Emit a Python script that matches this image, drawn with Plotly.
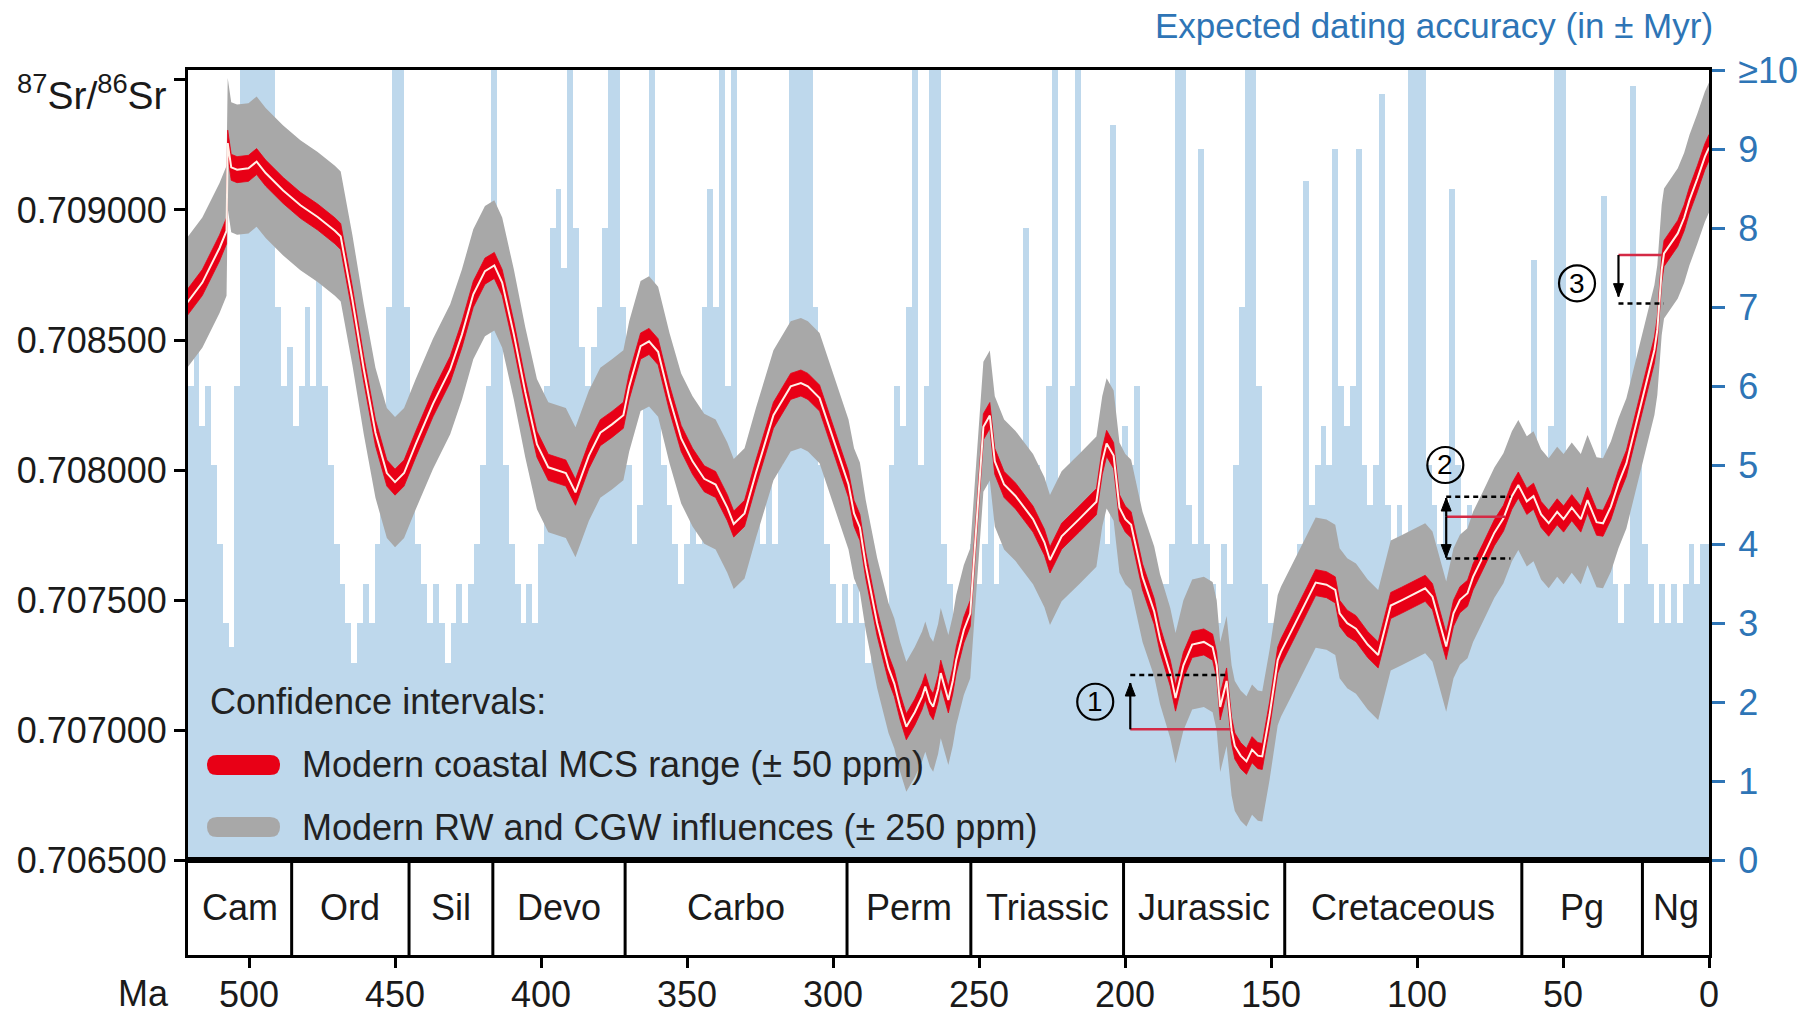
import plotly.graph_objects as go

# ---------------- data ----------------
# Centre of the 87Sr/86Sr curve (age in Ma, ratio)
age_ma = [521.1, 516.0, 510.1, 507.7, 507.3, 506.1, 504.1, 500.2, 497.4, 494.3,
          488.3, 482.4, 476.5, 470.6, 468.6, 464.6, 460.7, 456.7, 452.8, 450.0,
          446.9, 442.9, 437.0, 431.1, 427.1, 423.2, 419.2, 416.0, 413.3, 409.3,
          405.4, 401.4, 397.5, 391.5, 388.2, 383.6, 379.7, 375.7, 371.8, 369.8,
          365.9, 363.0, 359.9, 356.0, 352.0, 348.1, 344.1, 340.2, 336.2, 334.0,
          330.3, 326.4, 320.4, 314.5, 311.0, 308.6, 304.6, 300.7, 296.7, 294.7,
          292.8, 290.8, 288.8, 284.9, 281.0, 279.0, 277.0, 274.9, 272.0, 269.5,
          268.4, 266.8, 265.7, 264.0, 263.1, 261.5, 260.5, 259.0, 257.8, 255.2,
          253.0, 251.3, 248.5, 246.3, 244.6, 241.4, 237.5, 231.5, 227.6, 225.7,
          221.7, 215.7, 211.8, 209.8, 207.8, 206.3, 203.9, 201.9, 199.9, 197.9,
          194.0, 190.0, 188.0, 184.5, 182.7, 180.0, 177.0, 173.0, 170.0, 168.6,
          167.4, 165.2, 163.5, 162.4, 160.4, 158.4, 156.5, 154.5, 153.0, 150.5,
          147.7, 146.6, 142.6, 138.7, 134.7, 131.0, 128.0, 126.5, 123.9, 120.9,
          116.9, 113.3, 109.0, 105.3, 101.1, 97.2, 94.7, 92.5, 90.0, 87.5,
          85.3, 82.7, 80.8, 77.4, 73.5, 70.4, 67.5, 65.3, 62.4, 60.1,
          57.5, 54.9, 52.0, 49.8, 47.0, 43.9, 41.6, 38.5, 36.3, 33.6,
          31.0, 28.3, 25.0, 22.0, 18.7, 17.7, 16.2, 15.4, 13.0, 10.7,
          8.5, 6.7, 4.0, 1.4, 0.0]
sr_centre = [0.708645, 0.708721, 0.708854, 0.708920, 0.709257, 0.709164, 0.709155, 0.709160, 0.709186, 0.709142,
             0.709075, 0.709018, 0.708973, 0.708920, 0.708898, 0.708654, 0.708388, 0.708144, 0.707989, 0.707954,
             0.707989, 0.708100, 0.708255, 0.708388, 0.708521, 0.708676, 0.708765, 0.708787, 0.708721, 0.708521,
             0.708300, 0.708100, 0.708011, 0.707989, 0.707915, 0.708056, 0.708144, 0.708176, 0.708211, 0.708322,
             0.708477, 0.708495, 0.708455, 0.708277, 0.708122, 0.708034, 0.707967, 0.707945, 0.707856, 0.707793,
             0.707834, 0.707989, 0.708211, 0.708322, 0.708335, 0.708322, 0.708277, 0.708144, 0.708011, 0.707945,
             0.707834, 0.707780, 0.707635, 0.707413, 0.707240, 0.707180, 0.707090, 0.707014, 0.707070, 0.707130,
             0.707168, 0.707110, 0.707091, 0.707160, 0.707220, 0.707160, 0.707117, 0.707190, 0.707270, 0.707386,
             0.707450, 0.707723, 0.708167, 0.708210, 0.708034, 0.707945, 0.707901, 0.707812, 0.707723, 0.707655,
             0.707746, 0.707812, 0.707856, 0.707879, 0.708034, 0.708103, 0.708056, 0.707856, 0.707812, 0.707790,
             0.707590, 0.707457, 0.707350, 0.707220, 0.707124, 0.707250, 0.707330, 0.707340, 0.707320, 0.707250,
             0.707090, 0.707190, 0.707000, 0.706940, 0.706903, 0.706881, 0.706926, 0.706903, 0.706900, 0.707059,
             0.707270, 0.707302, 0.707391, 0.707480, 0.707568, 0.707560, 0.707540, 0.707450, 0.707412, 0.707391,
             0.707330, 0.707290, 0.707480, 0.707500, 0.707524, 0.707546, 0.707514, 0.707420, 0.707322, 0.707450,
             0.707502, 0.707527, 0.707590, 0.707668, 0.707760, 0.707815, 0.707900, 0.707943, 0.707880, 0.707900,
             0.707830, 0.707796, 0.707840, 0.707812, 0.707856, 0.707812, 0.707885, 0.707800, 0.707796, 0.707860,
             0.707950, 0.708026, 0.708180, 0.708320, 0.708462, 0.708539, 0.708770, 0.708833, 0.708870, 0.708910,
             0.708970, 0.709038, 0.709120, 0.709205, 0.709240]

# half-widths of the confidence intervals (from the legend: ±50 ppm and ±250 ppm)
mcs_half = 0.00005
rw_half = 0.00025

# Expected dating accuracy (± Myr), every 2 Ma from 520 Ma to 0 Ma (10 = "≥10")
acc_age = list(range(520, -1, -2))
acc_value = [6, 6.5, 5.5, 6, 5, 4, 3, 2.7, 6, 10,
             10, 10, 10, 10, 10, 7, 6, 6.5, 5.5, 6,
             7, 6, 7.5, 6, 5, 4, 3.5, 3, 2.5, 3,
             3.5, 3, 4, 5, 7, 10, 10, 7, 5, 4,
             3.5, 3, 3.5, 3, 2.5, 3, 3.5, 3, 3.5, 4,
             5, 6, 10, 8, 5, 4, 3.5, 3, 3.5, 3,
             4, 6, 8, 8.5, 7.5, 10, 8, 6.5, 6, 6.5,
             7, 8, 10, 10, 7, 5, 4, 4.5, 7, 10,
             7, 5, 4.5, 4, 3.5, 4, 4.5, 4, 7, 8.5,
             7, 10, 6, 10, 5, 4.5, 4, 4.5, 4, 5,
             4, 5, 6, 10, 10, 10, 10, 7, 5, 4,
             3.5, 3, 3.5, 3, 3.5, 3, 2.5, 3, 2.5, 3,
             5, 6, 5.5, 7, 10, 5, 6, 10, 10, 4,
             3.5, 3, 3.5, 3, 4, 3.5, 4, 5, 3.5, 4,
             4.5, 4, 5, 8, 4.5, 5, 4, 6, 10, 4.5,
             4, 6, 10, 5, 4, 4.5, 5, 4, 9.3, 5,
             5.5, 5, 6, 4, 3, 3.5, 3, 3.5, 4, 10,
             10, 4.5, 4, 9, 4, 3.5, 3, 4, 3.5, 5,
             7, 10, 10, 6, 3.5, 3, 2.5, 3, 3.5, 3,
             4, 8.6, 4.5, 5, 5.5, 5, 9, 6, 5.5, 6,
             9, 5, 4.5, 5, 9.7, 4.5, 4, 4.5, 4, 10,
             10, 10, 5, 4.5, 4, 4.5, 8.5, 5, 4, 4.5,
             3.5, 4, 3.5, 4, 3.5, 4.5, 4, 5, 4.5, 5,
             7.6, 4.5, 4, 5.5, 10, 10, 5, 4.5, 4, 5,
             4.5, 4, 8.4, 4, 3.5, 3, 3.5, 9.8, 5, 4,
             3.5, 3, 3.5, 3, 3.5, 3, 3.5, 4, 3.5, 4,
             4]

# Geological periods (boundaries in Ma, oldest first)
period_names = ["Cam", "Ord", "Sil", "Devo", "Carbo", "Perm", "Triassic",
                "Jurassic", "Cretaceous", "Pg", "Ng"]
period_bounds = [520.9, 485.4, 445.2, 416.5, 371.2, 295.2, 252.8, 200.5,
                 145.3, 64.1, 22.8, 0.0]

# Axis ticks
ma_ticks = [500, 450, 400, 350, 300, 250, 200, 150, 100, 50, 0]
sr_ticks = [0.7065, 0.7070, 0.7075, 0.7080, 0.7085, 0.7090, 0.7095]
sr_ticktext = ["0.706500", "0.707000", "0.707500", "0.708000", "0.708500", "0.709000", ""]
acc_ticks = list(range(0, 11))
acc_ticktext = [str(v) for v in range(0, 10)] + ["≥10"]

# Worked examples (age of tie line start/end, ratio levels)
ex1 = dict(label="1", cx=210.2, cy=0.70711, x0=198.2, x1=163.9, red=0.707004, dot_end=165.0, dot=0.707213, tip=0.707182)
ex2 = dict(label="2", cx=90.3, cy=0.70802, x0=90.0, x1=69.8, red=0.707821, dot_end=68.0,
           dot_hi=0.707898, dot_lo=0.707661, tip_hi=0.707893, tip_lo=0.707664)
ex3 = dict(label="3", cx=45.2, cy=0.708718, x0=31.0, x1=16.1, red=0.708827, dot_end=15.5, dot=0.708641, tip=0.708667)

# ---------------- styles ----------------
FONT = "Liberation Sans, Arial, Helvetica, sans-serif"
BLUE_TXT = "#2e75b6"
BLUE_FILL = "rgb(190,216,236)"
GRAY = "rgb(168,168,168)"
RED = "rgb(232,0,22)"
TIE_RED = "#d42a45"
FS = 36

fig = go.Figure()

fig.add_trace(go.Bar(x=acc_age, y=acc_value, width=2,
                     marker=dict(color=BLUE_FILL, line=dict(width=0)),
                     xaxis="x", yaxis="y", hoverinfo="skip"))

lo_rw = [c - rw_half for c in sr_centre]
hi_rw = [c + rw_half for c in sr_centre]
lo_mcs = [c - mcs_half for c in sr_centre]
hi_mcs = [c + mcs_half for c in sr_centre]

fig.add_trace(go.Scatter(x=age_ma, y=lo_rw, mode="lines", line=dict(width=0, color=GRAY),
                         xaxis="x", yaxis="y2", hoverinfo="skip"))
fig.add_trace(go.Scatter(x=age_ma, y=hi_rw, mode="lines", line=dict(width=0, color=GRAY),
                         fill="tonexty", fillcolor=GRAY, xaxis="x", yaxis="y2", hoverinfo="skip"))
fig.add_trace(go.Scatter(x=age_ma, y=lo_mcs, mode="lines", line=dict(width=0.8, color=RED),
                         xaxis="x", yaxis="y2", hoverinfo="skip"))
fig.add_trace(go.Scatter(x=age_ma, y=hi_mcs, mode="lines", line=dict(width=0.8, color=RED),
                         fill="tonexty", fillcolor=RED, xaxis="x", yaxis="y2", hoverinfo="skip"))
fig.add_trace(go.Scatter(x=age_ma, y=sr_centre, mode="lines", line=dict(width=2, color="rgb(255,240,232)"),
                         xaxis="x", yaxis="y2", hoverinfo="skip"))
# dummy trace so the period strip subplot exists
fig.add_trace(go.Scatter(x=[None], y=[None], xaxis="x2", yaxis="y3", showlegend=False))

shapes = []
annotations = []

# period strip
for b in period_bounds[1:-1]:
    shapes.append(dict(type="line", xref="x2", yref="y3", x0=b, x1=b, y0=0, y1=1,
                       line=dict(color="black", width=3)))
for name, a, b in zip(period_names, period_bounds[:-1], period_bounds[1:]):
    annotations.append(dict(xref="x2", yref="y3", x=(a + b) / 2, y=0.5, text=name,
                            showarrow=False, font=dict(size=FS, color="#1a1a1a")))

# worked examples
def tie_line(x0, x1, y, color, dash=None):
    ln = dict(color=color, width=2.5)
    if dash:
        ln["dash"] = dash
    return dict(type="line", xref="x", yref="y2", x0=x0, x1=x1, y0=y, y1=y, line=ln)

def arrow(x, y_tail, y_tip):
    # shaft in data units, head as a small pixel-sized triangle anchored at the tip
    up = y_tip > y_tail
    shapes.append(dict(type="line", xref="x", yref="y2", x0=x, x1=x, y0=y_tail, y1=y_tip,
                       line=dict(color="black", width=2.2)))
    head = "M -5,-13 L 5,-13 L 0,0 Z" if up else "M -5,13 L 5,13 L 0,0 Z"
    shapes.append(dict(type="path", xref="x", yref="y2", xsizemode="pixel", ysizemode="pixel",
                       xanchor=x, yanchor=y_tip, path=head, fillcolor="black",
                       line=dict(color="black", width=1)))

def circled(ex):
    shapes.append(dict(type="circle", xref="x", yref="y2", xsizemode="pixel", ysizemode="pixel",
                       xanchor=ex["cx"], yanchor=ex["cy"], x0=-18, x1=18, y0=-18, y1=18,
                       line=dict(color="black", width=2.2)))
    annotations.append(dict(xref="x", yref="y2", x=ex["cx"], y=ex["cy"], text=ex["label"],
                            showarrow=False, font=dict(size=28, color="black")))

for ex in (ex1, ex2, ex3):
    circled(ex)

shapes.append(tie_line(ex1["x0"], ex1["x1"], ex1["red"], TIE_RED))
shapes.append(tie_line(ex1["x0"], ex1["dot_end"], ex1["dot"], "black", "5px,4px"))
arrow(ex1["x0"], ex1["red"], ex1["tip"])

shapes.append(tie_line(ex2["x0"], ex2["x1"], ex2["red"], TIE_RED))
shapes.append(tie_line(ex2["x0"], ex2["dot_end"], ex2["dot_hi"], "black", "5px,4px"))
shapes.append(tie_line(ex2["x0"], ex2["dot_end"], ex2["dot_lo"], "black", "5px,4px"))
arrow(ex2["x0"], ex2["red"], ex2["tip_hi"])
arrow(ex2["x0"], ex2["red"], ex2["tip_lo"])

shapes.append(tie_line(ex3["x0"], ex3["x1"], ex3["red"], TIE_RED))
shapes.append(tie_line(ex3["x0"], ex3["dot_end"], ex3["dot"], "black", "5px,4px"))
arrow(ex3["x0"], ex3["red"], ex3["tip"])

# legend (drawn manually)
def pill(x0, x1, yc, color):
    rx, ry = 0.0066, 0.0113
    p = (f"M {x0+rx},{yc-ry} L {x1-rx},{yc-ry} Q {x1},{yc-ry} {x1},{yc} "
         f"Q {x1},{yc+ry} {x1-rx},{yc+ry} L {x0+rx},{yc+ry} Q {x0},{yc+ry} {x0},{yc} "
         f"Q {x0},{yc-ry} {x0+rx},{yc-ry} Z")
    return dict(type="path", xref="paper", yref="paper", path=p, fillcolor=color,
                line=dict(width=0))

shapes.append(pill(0.0125, 0.0605, 0.2147, RED))
shapes.append(pill(0.0125, 0.0605, 0.1446, GRAY))
annotations.append(dict(xref="paper", yref="paper", x=0.0130, y=0.2864, xanchor="left", yanchor="middle",
                        text="Confidence intervals:", showarrow=False, font=dict(size=FS, color="#222")))
annotations.append(dict(xref="paper", yref="paper", x=0.0736, y=0.2147, xanchor="left", yanchor="middle",
                        text="Modern coastal MCS range (± 50 ppm)", showarrow=False,
                        font=dict(size=FS, color="#222")))
annotations.append(dict(xref="paper", yref="paper", x=0.0736, y=0.1446, xanchor="left", yanchor="middle",
                        text="Modern RW and CGW influences (± 250 ppm)", showarrow=False,
                        font=dict(size=FS, color="#222")))

# axis titles
annotations.append(dict(xref="paper", yref="paper", x=-0.1135, y=0.9751, xanchor="left", yanchor="middle",
                        text="<sup>87</sup>Sr/<sup>86</sup>Sr", showarrow=False,
                        font=dict(size=39, color="#1a1a1a")))
annotations.append(dict(xref="paper", yref="paper", x=-0.0112, y=-0.0440, xanchor="right", yanchor="middle",
                        text="Ma", showarrow=False, font=dict(size=FS, color="#1a1a1a")))
annotations.append(dict(xref="paper", yref="paper", x=1.0039, y=1.0508, xanchor="right", yanchor="middle",
                        text="Expected dating accuracy (in ± Myr)", showarrow=False,
                        font=dict(size=35, color=BLUE_TXT)))

STRIP = 0.1068
axis_common = dict(showgrid=False, zeroline=False, linecolor="black", linewidth=3, automargin=False)

fig.update_layout(
    template="none",
    width=1809, height=1015,
    margin=dict(l=188, r=100, t=70, b=60, autoexpand=False),
    paper_bgcolor="white", plot_bgcolor="white",
    font=dict(family=FONT, size=FS, color="#1a1a1a"),
    showlegend=False, bargap=0, barmode="overlay",
    xaxis=dict(domain=[0, 1], range=[520.9, 0], anchor="y", showticklabels=False, ticks="",
               showline=True, mirror=True, **axis_common),
    yaxis=dict(domain=[STRIP, 1], range=[0, 10], side="right", anchor="x",
               tickmode="array", tickvals=acc_ticks, ticktext=acc_ticktext,
               ticks="outside", ticklen=13, tickwidth=3, tickcolor=BLUE_TXT, ticklabelstandoff=6,
               tickfont=dict(color=BLUE_TXT, size=FS), showline=True, **axis_common),
    yaxis2=dict(overlaying="y", side="left", anchor="x", range=[0.7065, 0.709538],
                tickmode="array", tickvals=sr_ticks, ticktext=sr_ticktext,
                ticks="outside", ticklen=11, tickwidth=3, tickcolor="black",
                tickfont=dict(size=FS, color="#1a1a1a"), showline=True, **axis_common),
    xaxis2=dict(domain=[0, 1], range=[520.9, 0], anchor="y3", tickmode="array", tickvals=ma_ticks,
                ticks="outside", ticklen=10, tickwidth=3, tickcolor="black", ticklabelstandoff=-4,
                tickfont=dict(size=FS, color="#1a1a1a"), showline=True, mirror=True, **axis_common),
    yaxis3=dict(domain=[0, STRIP], range=[0, 1], anchor="x2", showticklabels=False, ticks="",
                showline=True, mirror=True, **axis_common),
    shapes=shapes,
    annotations=annotations,
)

# remove the browser's default 8 px body margin so the 1809x1015 figure fills the window exactly
fig.write_html("out.html", config={"displayModeBar": False},
               post_script="document.body.style.margin='0';document.body.style.overflow='hidden';")
